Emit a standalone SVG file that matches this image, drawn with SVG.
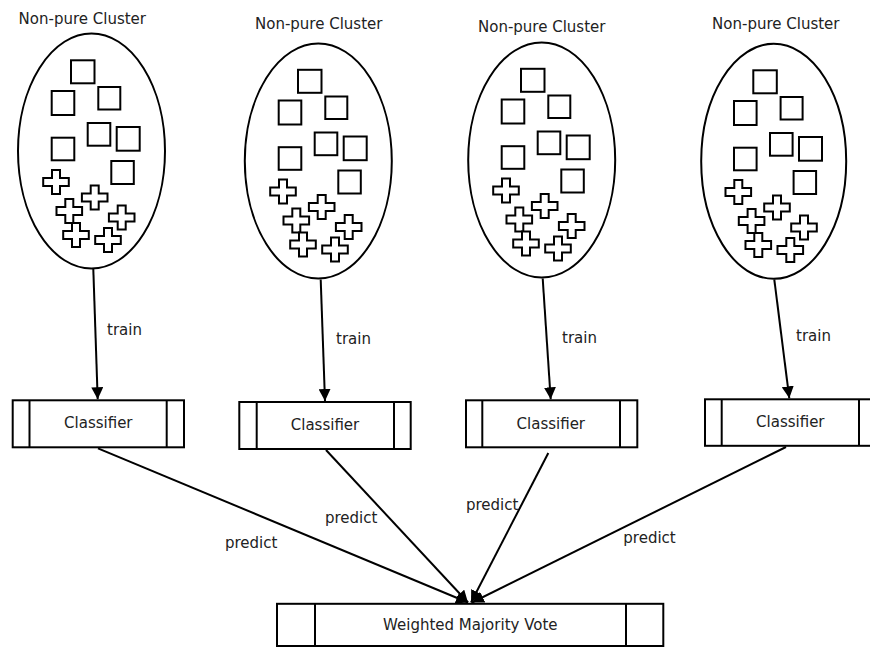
<svg xmlns="http://www.w3.org/2000/svg" xmlns:xlink="http://www.w3.org/1999/xlink" width="870" height="648" viewBox="0 0 870 648">
  <style>
    text { font-family: "DejaVu Sans", "Liberation Sans", sans-serif; font-size: 15px; fill: #222; }
    .title, .box-label { text-anchor: middle; }
    .outline { fill: #fff; stroke: #000; stroke-width: 2; }
    .divider { stroke: #000; stroke-width: 2; }
    .edge { fill: none; stroke: #000; stroke-width: 2; marker-end: url(#arrow); }
  </style>
  <defs>
    <marker id="arrow" markerUnits="userSpaceOnUse" markerWidth="12" markerHeight="12" refX="12" refY="6" orient="auto">
      <path d="M0,0 L12,6 L0,12 Z" fill="#000"/>
    </marker>
    <!-- plus-shaped sample, centred on its origin -->
    <path id="plus" class="outline" d="M-4,-12 H4 V-4 H12.8 V4 H4 V12 H-4 V4 H-12.8 V-4 H-4 Z"/>
    <!-- the mixed samples inside one cluster -->
    <g id="members">
      <rect class="outline" x="71" y="60.3" width="23.5" height="23"/>
      <rect class="outline" x="51.7" y="91" width="22.6" height="24"/>
      <rect class="outline" x="98.3" y="87" width="22" height="22.5"/>
      <rect class="outline" x="87.7" y="123" width="22.6" height="22.7"/>
      <rect class="outline" x="116.7" y="127" width="23" height="23.7"/>
      <rect class="outline" x="51.7" y="137.7" width="22.6" height="22.6"/>
      <rect class="outline" x="111.3" y="161" width="22.5" height="23"/>
      <use xlink:href="#plus" href="#plus" x="56" y="182"/>
      <use xlink:href="#plus" href="#plus" x="94.7" y="197.5"/>
      <use xlink:href="#plus" href="#plus" x="69.3" y="211"/>
      <use xlink:href="#plus" href="#plus" x="121.7" y="217.5"/>
      <use xlink:href="#plus" href="#plus" x="76" y="235"/>
      <use xlink:href="#plus" href="#plus" x="108" y="240"/>
    </g>
  </defs>

  <rect width="870" height="648" fill="#fff"/>

  <!-- clusters -->
  <g id="cluster-1">
    <text class="title" x="82.3" y="24">Non-pure Cluster</text>
    <ellipse class="outline" cx="91.5" cy="151" rx="73.5" ry="117.5"/>
    <use xlink:href="#members" href="#members"/>
  </g>
  <g id="cluster-2">
    <text class="title" x="318.7" y="28.5">Non-pure Cluster</text>
    <ellipse class="outline" cx="318.3" cy="161" rx="73.5" ry="117.5"/>
    <use xlink:href="#members" href="#members" transform="translate(227,9.5)"/>
  </g>
  <g id="cluster-3">
    <text class="title" x="541.7" y="31.5">Non-pure Cluster</text>
    <ellipse class="outline" cx="541.7" cy="160" rx="73.5" ry="117.5"/>
    <use xlink:href="#members" href="#members" transform="translate(450,8.5)"/>
  </g>
  <g id="cluster-4">
    <text class="title" x="775.8" y="28.5">Non-pure Cluster</text>
    <ellipse class="outline" cx="773.7" cy="161.3" rx="72.5" ry="117.5"/>
    <use xlink:href="#members" href="#members" transform="translate(682.3,10)"/>
  </g>

  <!-- classifiers -->
  <g id="classifier-1">
    <rect class="outline" x="12.7" y="400.3" width="171.3" height="47"/>
    <line class="divider" x1="29.5" y1="400.3" x2="29.5" y2="447.3"/>
    <line class="divider" x1="166.7" y1="400.3" x2="166.7" y2="447.3"/>
    <text class="box-label" x="98.3" y="428.3">Classifier</text>
  </g>
  <g id="classifier-2">
    <rect class="outline" x="239.3" y="402" width="171.4" height="47"/>
    <line class="divider" x1="256.7" y1="402" x2="256.7" y2="449"/>
    <line class="divider" x1="394" y1="402" x2="394" y2="449"/>
    <text class="box-label" x="325" y="429.5">Classifier</text>
  </g>
  <g id="classifier-3">
    <rect class="outline" x="466" y="400.3" width="171.3" height="47"/>
    <line class="divider" x1="482.3" y1="400.3" x2="482.3" y2="447.3"/>
    <line class="divider" x1="620" y1="400.3" x2="620" y2="447.3"/>
    <text class="box-label" x="550.8" y="428.5">Classifier</text>
  </g>
  <g id="classifier-4">
    <rect class="outline" x="705" y="399.3" width="171.3" height="46.5"/>
    <line class="divider" x1="721.7" y1="399.3" x2="721.7" y2="445.8"/>
    <line class="divider" x1="859" y1="399.3" x2="859" y2="445.8"/>
    <text class="box-label" x="790.3" y="426.8">Classifier</text>
  </g>

  <!-- vote -->
  <g id="weighted-majority-vote">
    <rect class="outline" x="277" y="603.8" width="386.3" height="42.2"/>
    <line class="divider" x1="315" y1="603.8" x2="315" y2="646"/>
    <line class="divider" x1="626" y1="603.8" x2="626" y2="646"/>
    <text class="box-label" x="470.3" y="630">Weighted Majority Vote</text>
  </g>

  <!-- connectors -->
  <g id="connectors">
    <line class="edge" x1="93.3" y1="269" x2="97.7" y2="399.3"/>
    <line class="edge" x1="320.7" y1="279.5" x2="325" y2="401"/>
    <line class="edge" x1="542.7" y1="278.5" x2="550.7" y2="399.3"/>
    <line class="edge" x1="774.3" y1="279.5" x2="789.3" y2="398.3"/>

    <line class="edge" x1="98" y1="448.3" x2="468" y2="602.5"/>
    <line class="edge" x1="326" y1="450" x2="468" y2="602.5"/>
    <line class="edge" x1="548.3" y1="453" x2="471" y2="602.5"/>
    <line class="edge" x1="786" y1="447" x2="472" y2="602.5"/>

    <text x="107" y="335">train</text>
    <text x="336" y="344">train</text>
    <text x="562" y="343.3">train</text>
    <text x="796" y="341">train</text>

    <text x="225" y="548.3">predict</text>
    <text x="325" y="523.3">predict</text>
    <text x="466" y="510">predict</text>
    <text x="623.3" y="542.7">predict</text>
  </g>
</svg>
